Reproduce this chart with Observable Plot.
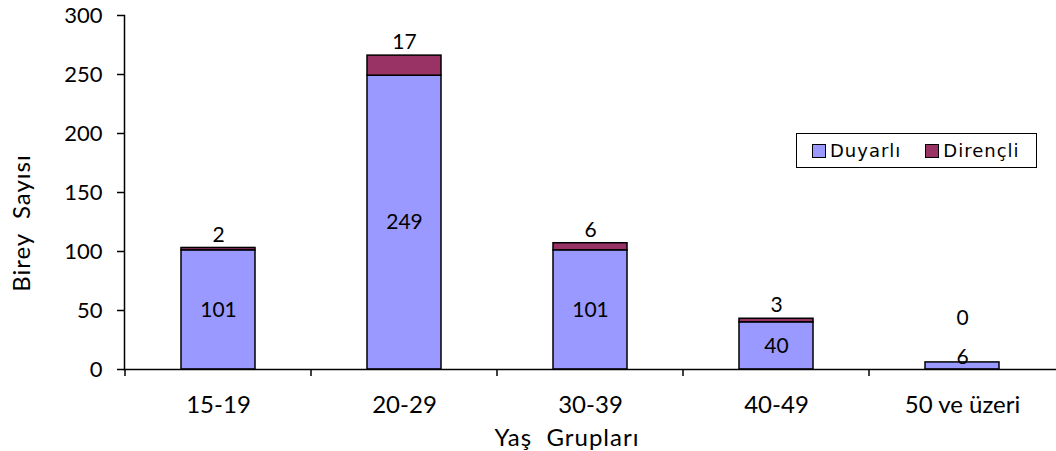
<!DOCTYPE html>
<html><head><meta charset="utf-8">
<script src="https://cdn.jsdelivr.net/npm/d3@7"></script>
<script src="https://cdn.jsdelivr.net/npm/@observablehq/plot@0.6"></script>
<style>
body{margin:0;background:#fff}
#wrap{position:relative;width:1056px;height:451px;overflow:hidden}
#legend{position:absolute;left:796px;top:133px;width:241px;height:35px;border:1.5px solid #000;box-sizing:border-box;display:flex;align-items:center;font-family:"DejaVu Sans",sans-serif;font-size:18px;letter-spacing:1px;background:#fff;color:#000}
#legend .item{display:flex;align-items:center;margin-left:15px}
#legend .item + .item{margin-left:24px}
#legend .sw{width:12px;height:12px;border:1px solid #000;margin-right:4px}
.title{position:absolute;font-family:Lato,sans-serif;font-size:24px;letter-spacing:1px;color:#000;white-space:pre}
</style></head><body><div id="wrap"></div>
<script>
const categories = ["15-19","20-29","30-39","40-49","50 ve üzeri"];
const duyarli = [101,249,101,40,6];
const direncli = [2,17,6,3,0];
const seriesNames = ["Duyarlı","Dirençli"];
const seriesColors = ["#9999FF","#993366"];
const yTicks = [0,50,100,150,200,250,300];
const xTitle = "Yaş  Grupları";
const yTitle = "Birey  Sayısı";

const data = [];
categories.forEach((c,i)=>{
  data.push({group:c, series:seriesNames[0], value:duyarli[i], total:duyarli[i]+direncli[i]});
  data.push({group:c, series:seriesNames[1], value:direncli[i], total:duyarli[i]+direncli[i]});
});
const lower = data.filter(d=>d.series===seriesNames[0]);
const upper = data.filter(d=>d.series===seriesNames[1]);

const chart = Plot.plot({
  width:1056, height:451,
  marginTop:15, marginBottom:82, marginLeft:124, marginRight:0,
  style:{fontFamily:"Lato, sans-serif", fontSize:"22px", color:"#000", background:"#fff"},
  x:{domain:categories, paddingInner:0.6, paddingOuter:0.3, label:null},
  y:{domain:[0,300], label:null},
  color:{domain:seriesNames, range:seriesColors},
  marks:[
    Plot.barY(data, Plot.stackY({x:"group", y:"value", fill:"series", order:seriesNames, stroke:"#000", strokeWidth:1.5})),
    Plot.frame({anchor:"left", stroke:"#000", strokeWidth:1.5}),
    Plot.frame({anchor:"bottom", stroke:"#000", strokeWidth:1.5}),
    Plot.axisY({ticks:yTicks, tickSize:7, tickPadding:15, tickFormat:d=>d, fontSize:22, label:null, strokeWidth:1.5}),
    Plot.axisX({tickSize:0, tickPadding:26, fontSize:24, label:null}),
    Plot.text(lower, {x:"group", y:d=>Math.max(d.value/2,10), text:"value", fontSize:21, fill:"#000"}),
    Plot.text(upper, {x:"group", y:d=>Math.max(d.total,32), text:"value", dy:-13, fontSize:21, fill:"#000"})
  ]
});
const wrap = document.getElementById("wrap");
wrap.appendChild(chart);

// category separator ticks on the x axis, computed from the band scale
const xs = chart.scale("x"), ys = chart.scale("y");
const half = (xs.step - xs.bandwidth)/2;
const y0 = ys.apply(0);
const g = d3.select(chart).append("g").attr("stroke","#000").attr("stroke-width",1.5);
categories.forEach(c=>{
  const xp = xs.apply(c) - half;
  g.append("line").attr("x1",xp).attr("x2",xp).attr("y1",y0).attr("y2",y0+7);
});

// titles
const xt = document.createElement("div");
xt.className="title"; xt.textContent=xTitle;
xt.style.left="567px"; xt.style.top="422px"; xt.style.transform="translateX(-50%)";
wrap.appendChild(xt);
const yt = document.createElement("div");
yt.className="title"; yt.textContent=yTitle;
yt.style.left="20px"; yt.style.top="223px"; yt.style.transform="translate(-50%,-50%) rotate(-90deg)";
wrap.appendChild(yt);

// legend
const leg = document.createElement("div"); leg.id="legend";
seriesNames.forEach((n,i)=>{
  const it=document.createElement("div"); it.className="item";
  const sw=document.createElement("div"); sw.className="sw"; sw.style.background=seriesColors[i];
  const tx=document.createElement("span"); tx.textContent=n;
  it.appendChild(sw); it.appendChild(tx); leg.appendChild(it);
});
wrap.appendChild(leg);
</script>
</body></html>
